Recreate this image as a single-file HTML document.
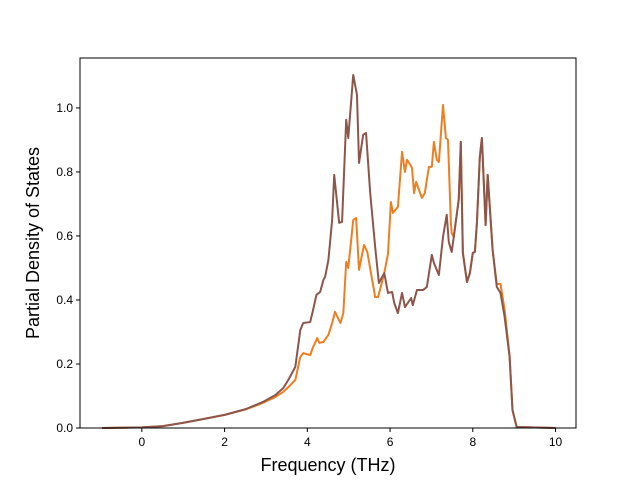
<!DOCTYPE html>
<html><head><meta charset="utf-8"><style>
body{margin:0;background:#fff}
svg text{font-family:"Liberation Sans",sans-serif;fill:#000}
</style></head><body>
<svg id="chart" width="640" height="480" xmlns="http://www.w3.org/2000/svg">
<rect width="640" height="480" fill="#fff"/>
<g id="plot"></g>
<rect x="80" y="58" width="496" height="370" fill="none" stroke="#000" stroke-width="1"/>
<g id="ticks"></g>
<text x="328" y="471" font-size="18" text-anchor="middle">Frequency (THz)</text>
<text transform="translate(39,243) rotate(-90)" font-size="18" text-anchor="middle">Partial Density of States</text>
</svg>
<script>
const xTicks=[0,2,4,6,8,10];
const yTicks=[0,0.2,0.4,0.6,0.8,1.0];
const brownF=[-0.96,0,0.51,0.99,1.49,2.0,2.51,2.92,3.23,3.42,3.54,3.71,3.83,3.90,4.07,4.14,4.22,4.31,4.39,4.43,4.51,4.60,4.65,4.77,4.84,4.94,4.99,5.11,5.20,5.25,5.35,5.42,5.52,5.64,5.73,5.86,5.95,6.05,6.10,6.19,6.29,6.36,6.51,6.55,6.65,6.80,6.89,7.01,7.06,7.18,7.28,7.37,7.42,7.49];
const brownV=[0,0.002,0.006,0.016,0.028,0.041,0.059,0.081,0.103,0.125,0.15,0.191,0.306,0.328,0.331,0.369,0.416,0.425,0.463,0.472,0.525,0.65,0.791,0.641,0.644,0.963,0.906,1.103,1.041,0.828,0.916,0.922,0.734,0.566,0.453,0.484,0.422,0.425,0.391,0.359,0.422,0.378,0.406,0.384,0.431,0.431,0.441,0.541,0.516,0.478,0.597,0.666,0.581,0.55];
const tailF=[7.54,7.66,7.71,7.76,7.86,7.93,8.0,8.05,8.10,8.17,8.22,8.31,8.36,8.48,8.58,8.67,8.77,8.89,8.96,9.06,10.0];
const brownTailV=[0.597,0.713,0.894,0.547,0.456,0.484,0.547,0.55,0.641,0.847,0.906,0.634,0.791,0.556,0.441,0.422,0.347,0.222,0.056,0.003,0];
const orangeF=[-0.96,0,0.51,0.99,1.49,2.0,2.51,2.92,3.23,3.42,3.59,3.71,3.83,3.90,4.07,4.14,4.24,4.29,4.39,4.51,4.60,4.67,4.80,4.87,4.94,4.99,5.11,5.18,5.25,5.37,5.45,5.64,5.71,5.86,5.95,6.02,6.07,6.19,6.29,6.36,6.41,6.53,6.58,6.63,6.77,6.84,6.94,7.01,7.06,7.13,7.18,7.28,7.35,7.40,7.47,7.49];
const orangeV=[0,0.002,0.006,0.016,0.028,0.041,0.058,0.078,0.097,0.113,0.134,0.15,0.222,0.234,0.228,0.253,0.281,0.266,0.269,0.291,0.328,0.363,0.328,0.359,0.519,0.5,0.65,0.656,0.494,0.572,0.55,0.409,0.409,0.484,0.544,0.706,0.672,0.691,0.863,0.8,0.838,0.813,0.734,0.769,0.719,0.734,0.816,0.816,0.894,0.838,0.831,1.009,0.906,0.9,0.641,0.609];
const orangeTailV=[0.597,0.713,0.894,0.547,0.456,0.484,0.547,0.55,0.641,0.847,0.906,0.634,0.791,0.556,0.45,0.45,0.369,0.225,0.056,0.003,0];

const X0=80,X1=576,Y0=428,Y1=58,xmin=-1.495,xmax=10.495,ymin=0,ymax=1.156;
const sx=f=>X0+(f-xmin)/(xmax-xmin)*(X1-X0);
const sy=v=>Y0-(v-ymin)/(ymax-ymin)*(Y0-Y1);
const NS="http://www.w3.org/2000/svg";
const plot=document.getElementById('plot'),ticks=document.getElementById('ticks');
function line(fs,vs,color,name){
  const p=document.createElementNS(NS,'path');
  p.setAttribute('d',fs.map((f,i)=>(i?'L':'M')+sx(f).toFixed(2)+','+sy(vs[i]).toFixed(2)).join(''));
  p.setAttribute('fill','none');p.setAttribute('stroke',color);p.setAttribute('stroke-width','2');p.setAttribute('stroke-linejoin','round');
  
  
  plot.appendChild(p);
}
line(orangeF.concat(tailF),orangeV.concat(orangeTailV),'#ec7f22','orange-series-line');
line(brownF.concat(tailF),brownV.concat(brownTailV),'#8c564b','brown-series-line');
xTicks.forEach(t=>{
  const x=sx(t);
  const l=document.createElementNS(NS,'line');
  l.setAttribute('x1',x);l.setAttribute('x2',x);l.setAttribute('y1',Y0);l.setAttribute('y2',Y0+4);l.setAttribute('stroke','#000');
  
  
  ticks.appendChild(l);
  const tx=document.createElementNS(NS,'text');
  tx.setAttribute('x',x);tx.setAttribute('y',Y0+18);tx.setAttribute('font-size','12');tx.setAttribute('text-anchor','middle');
  tx.textContent=t;
  
  
  ticks.appendChild(tx);
});
yTicks.forEach(t=>{
  const y=sy(t);
  const l=document.createElementNS(NS,'line');
  l.setAttribute('x1',X0-4);l.setAttribute('x2',X0);l.setAttribute('y1',y);l.setAttribute('y2',y);l.setAttribute('stroke','#000');
  
  
  ticks.appendChild(l);
  const tx=document.createElementNS(NS,'text');
  tx.setAttribute('x',X0-7);tx.setAttribute('y',y+4);tx.setAttribute('font-size','12');tx.setAttribute('text-anchor','end');
  tx.textContent=t.toFixed(1);
  
  
  ticks.appendChild(tx);
});
</script>
</body></html>
